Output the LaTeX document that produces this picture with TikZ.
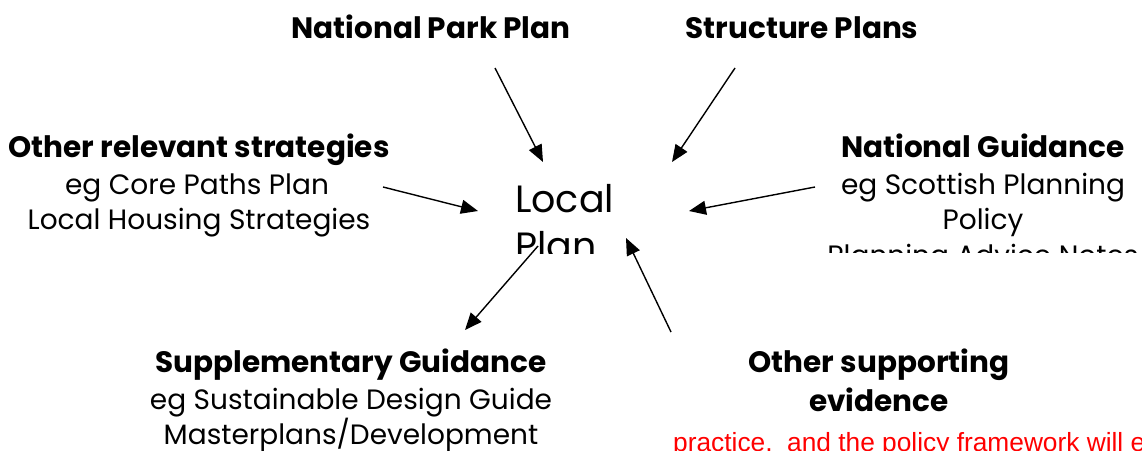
\documentclass[tikz,border=0pt]{standalone}
\usepackage{fontspec}
\setmainfont{Poppins}
\newfontfamily\redfont{Liberation Sans}
\usetikzlibrary{arrows.meta}
\tikzset{
  title/.style={font=\fontsize{29.5}{34}\selectfont\bfseries, inner sep=0pt, anchor=base},
  body/.style={font=\fontsize{28}{34}\selectfont, inner sep=0pt, anchor=base},
  centre/.style={font=\fontsize{38}{46}\selectfont, inner sep=0pt, anchor=base west},
  link/.style={line width=1.4pt, -{Triangle[length=17pt,width=14pt]}},
}
\begin{document}
\begin{tikzpicture}[x=1pt,y=-1pt]
\useasboundingbox (0,0) rectangle (1142,450);
\clip (0,0) rectangle (1142,450);
% titles
\node[title] (npp) at (431,38) {National Park Plan};
\node[title] (sp) at (802,38) {Structure Plans};
\node[title] (ors) at (199,157) {Other relevant strategies};
\node[body] (ors1) at (197,194) {eg Core Paths Plan};
\node[body] (ors2) at (199,229) {Local Housing Strategies};
\node[title] (ng) at (983,157) {National Guidance};
\node[body] (ng1) at (983,194) {eg Scottish Planning};
\node[body] (ng2) at (983,229) {Policy};
\begin{scope}
\clip (780,238) rectangle (1142,252);
\node[body] (ng3) at (983,265) {Planning Advice Notes};
\end{scope}
\begin{scope}
\clip (500,160) rectangle (640,253);
\node[centre] (lp1) at (515,212) {Local};
\node[centre] (lp2) at (515,259) {Plan};
\end{scope}
\node[title] (sg) at (351,372) {Supplementary Guidance};
\node[body] (sg1) at (351,409) {eg Sustainable Design Guide};
\node[body] (sg2) at (351,444) {Masterplans/Development};
\node[title] (ose1) at (879,372) {Other supporting};
\node[title] (ose2) at (879,411) {evidence};
\node[font=\redfont\fontsize{26.3}{31}\selectfont, text=red, inner sep=0pt, anchor=base west] (red) at (673,451.5) {practice,\ \ and the policy framework will e};
% arrow end points
\coordinate (a1s) at (495,68); \coordinate (a1e) at (543,162);
\coordinate (a2s) at (735,68); \coordinate (a2e) at (672,162);
\coordinate (a3s) at (383,187); \coordinate (a3e) at (478,211);
\coordinate (a4s) at (815,187); \coordinate (a4e) at (689,211);
\coordinate (a5s) at (538,246); \coordinate (a5e) at (465,330);
\coordinate (a6s) at (671,332); \coordinate (a6e) at (626,238);
\draw[link] (a1s) -- (a1e);
\draw[link] (a2s) -- (a2e);
\draw[link] (a3s) -- (a3e);
\draw[link] (a4s) -- (a4e);
\draw[link] (a5s) -- (a5e);
\draw[link] (a6s) -- (a6e);
\end{tikzpicture}
\end{document}
